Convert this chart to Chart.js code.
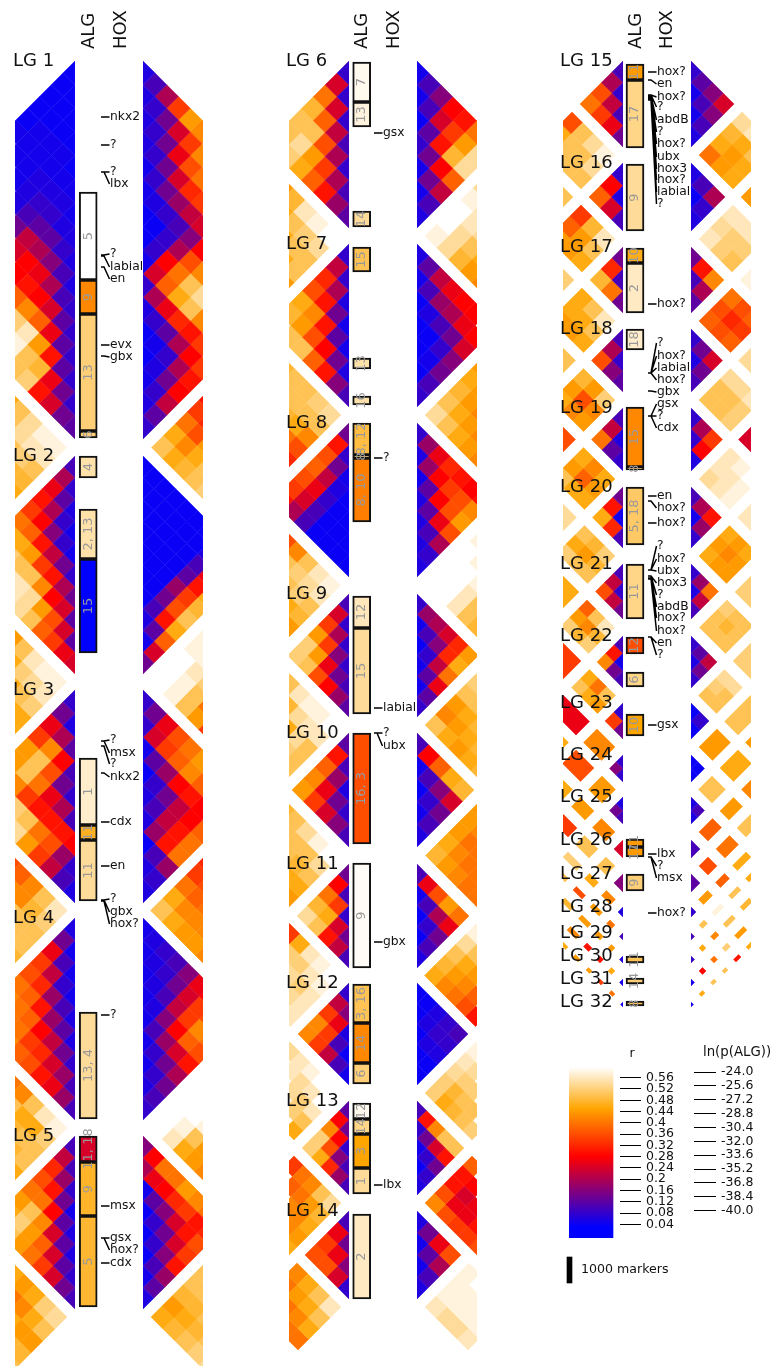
<!DOCTYPE html>
<html lang="en">
<head>
<meta charset="UTF-8">
<title>LG correlation and ALG maps</title>
<script src="https://cdn.jsdelivr.net/npm/chart.js"></script>
<style>
  body { margin: 0; background: #fff; width: 772px; height: 1366px; position: relative; overflow: hidden; }
  canvas { position: absolute; }
</style>
</head>
<body>
<script>
// linkage groups per column: start, end along the map, cells per group (last entry = next group cut by the page)
const col1Start = [61, 456, 690, 918, 1136, 1325];
const col1End = [439, 674, 903, 1120, 1309, 1492];
const col1Cells = [16, 10, 9, 9, 8, 7];
const col2Start = [61, 244, 423, 594, 733, 864, 983, 1101, 1211, 1315];
const col2End = [228, 407, 577, 717, 847, 968, 1085, 1195, 1299, 1401];
const col2Cells = [7, 7, 7, 6, 5, 5, 5, 5, 4, 4];
const col3Start = [61, 163, 247, 329, 408, 487, 564, 636, 703, 755, 797, 840, 874, 907, 933, 956, 979, 1002];
const col3End = [147, 231, 313, 392, 471, 548, 619, 688, 739, 782, 824, 858, 892, 917, 940, 963, 986, 1007];
const col3Cells = [4, 3, 3, 3, 3, 3, 3, 3, 2, 2, 2, 1, 1, 1, 1, 1, 1, 1];

// r x 100. triangles: one list per distance from the map, running down the map
const l1 = [[4,4,4,4,4,5,5,6,6,6,8,8,8,8,8,12],[4,4,4,5,5,6,6,8,10,10,12,12,12,14,14],[4,4,5,5,6,8,12,16,20,24,26,30,26,24],[4,5,5,6,8,12,20,26,28,38,44,48,30],[4,5,5,6,10,22,28,30,42,56,50,52],[5,5,5,6,14,24,28,38,52,58,50]];
const r1 = [[6,6,6,6,5,5,4,4,5,8,6,4,4,5,6,8],[10,8,8,8,8,6,4,8,24,20,8,5,6,8,12],[20,14,14,14,14,8,8,28,38,26,12,8,14,22],[34,24,26,24,18,10,20,40,46,32,20,20,28],[44,34,36,32,22,16,36,50,50,30,28,30],[42,42,40,34,24,28,42,54,42,34,34]];
const l2 = [[10,8,6,5,5,8,14,12,12,24],[20,12,8,8,14,20,24,24,26],[26,20,16,22,30,28,36,34],[30,28,30,34,42,44,38],[34,38,44,50,54,50],[40,46,50,56,54],[46,52,56,56]];
const r2 = [[4,4,4,4,4,4,4,6,5,14],[4,4,4,4,4,4,10,12,24],[4,4,4,4,4,14,30,38],[4,4,4,4,18,36,46],[4,4,4,12,34,50],[4,4,10,30,48],[4,6,26,46]];
const l3 = [[8,6,12,10,8,10,28,8,6],[14,20,28,14,20,30,18,10],[26,42,36,26,30,36,22],[34,50,40,30,40,34],[44,50,34,50,44],[44,42,52,54]];
const r3 = [[8,8,5,4,6,6,4,6,6],[14,24,12,8,10,18,10,8],[26,34,18,14,22,30,18],[36,38,28,22,30,40],[40,42,30,28,40],[44,38,28,38]];
const l4 = [[6,5,5,5,6,6,8,10,10],[14,10,8,10,12,14,18,18],[26,22,18,18,22,24,26],[34,32,30,28,32,30],[36,38,38,34,36],[40,40,40,38],[42,40,42]];
const r4 = [[5,5,5,5,5,5,5,6,8],[6,6,6,6,10,8,8,10],[8,8,10,16,18,14,14],[10,14,22,28,24,20],[16,24,34,38,30],[26,34,42,36],[28,36,40]];
const l5 = [[10,10,8,5,6,6,8,10],[22,18,14,12,12,12,14],[32,30,28,24,24,24],[36,40,42,38,34],[40,50,44,40],[44,52,44],[46,50]];
const r5 = [[16,20,5,4,4,4,5,6],[28,26,12,8,8,10,12],[40,28,16,14,16,18],[40,32,24,24,30],[44,34,30,34],[42,30,36],[40,32]];
const l6 = [[8,8,8,10,8,10,12],[24,24,22,20,20,18],[40,38,36,34,30],[48,50,44,38],[50,54,46],[50,52]];
const r6 = [[5,5,4,8,5,5,6],[10,10,12,14,14,10],[16,24,30,28,22],[28,34,48,38],[30,44,54],[40,54]];
const l7 = [[8,8,6,5,5,6,10],[22,20,14,12,14,16],[32,30,30,28,30],[36,42,36,38],[46,44,50],[48,50]];
const r7 = [[6,5,4,4,4,4,8],[12,10,6,4,5,10],[22,18,10,8,14],[26,20,14,16],[28,26,24],[28,28]];
const l8 = [[14,8,5,4,4,4,4],[30,14,6,4,4,4],[36,22,8,4,4],[38,26,10,4],[36,24,10],[34,20],[30]];
const r8 = [[8,6,5,6,6,6,6],[18,18,12,12,10,8],[26,28,28,26,20],[32,34,36,36],[30,36,44],[28,42],[30]];
const l9 = [[10,8,8,8,10,12],[24,20,16,14,18],[34,34,26,28],[44,44,36],[52,50],[52]];
const r9 = [[8,5,4,5,5,8],[18,10,8,12,12],[20,16,22,26],[24,32,40],[32,46],[44]];
const l10 = [[12,10,6,8,10],[30,18,14,16],[38,26,24],[42,34],[44]];
const r10 = [[10,5,4,5,6],[28,10,8,10],[38,16,14],[46,24],[48]];
const l11 = [[14,10,8,14,10],[28,34,24,22],[40,46,30],[48,50],[54]];
const r11 = [[10,5,4,4,6],[26,10,8,10],[36,20,14],[44,26],[40]];
const l12 = [[8,16,6,4,5],[22,26,10,10],[34,34,22],[42,34],[42]];
const r12 = [[4,4,4,4,4],[4,6,6,4],[6,8,6],[8,8],[10]];
const l13 = [[12,14,8,10,10],[28,28,16,18],[42,36,32],[52,46],[52]];
const r13 = [[10,8,5,4,6],[30,14,8,8],[42,24,14],[50,30],[50]];
const l14 = [[10,14,16,8],[26,26,24],[34,36],[36]];
const r14 = [[6,5,5,6],[14,12,10],[26,20],[36]];
const l15 = [[10,8,10,14],[20,22,26],[36,34],[40]];
const r15 = [[8,5,5,6],[12,10,10],[16,16],[24]];
const l16 = [[8,6,10],[28,24],[38]];
const r16 = [[6,4,6],[10,8],[20]];
const l17 = [[14,10,14],[32,40],[48]];
const r17 = [[14,10,12],[30,20],[42]];
const l18 = [[10,8,12],[20,16],[36]];
const r18 = [[8,6,10],[14,14],[24]];
const l19 = [[10,6,8],[22,12],[40]];
const r19 = [[8,8,6],[20,28],[34]];
const l20 = [[14,5,10],[30,32],[46]];
const r20 = [[10,5,8],[20,18],[30]];
const l21 = [[10,8,14],[22,22],[36]];
const r21 = [[8,6,10],[18,22],[40]];
const l22 = [[10,5,10],[30,14],[42]];
const r22 = [[8,6,8],[12,14],[22]];
const l23 = [[8,14],[34]];
const r23 = [[4,4],[8]];
const l24 = [[8,8],[16]];
const r24 = [[4,4],[4]];
const l25 = [[6,10],[14]];
const r25 = [[6,6],[10]];
const l26 = [[24]], r26 = [[10]], l27 = [[16]], r27 = [[12]], l28 = [[6]], r28 = [[8]];
const l29 = [[10]], r29 = [[10]], l30 = [[6]], r30 = [[8]], l31 = [[5]], r31 = [[5]], l32 = [[5]], r32 = [[5]];

// r x 100 between two neighbouring groups: rows go up the first group, columns go down the second
const l1_2 = [[58,56,50,48,46],[58,56,52,48],[54,54,50],[50,50],[46]];
const l2_3 = [[58,56,52,46,46],[58,54,50,46],[56,52,46],[50,46],[44]];
const l3_4 = [[56,52,50,50,48],[50,48,50,50],[42,42,50],[38,42],[36]];
const l4_5 = [[58,52,50,50,46],[56,46,50,48],[50,46,48],[42,50],[40]];
const l5_6 = [[54,50,44,48,50],[52,46,44,48],[46,42,46],[44,40],[46]];
const r1_2 = [[50,46,48,50,52],[46,42,46,50],[40,36,44],[34,32],[30]];
const r2_3 = [[60,58,50,44,34],[60,58,50,40],[60,56,52],[58,58],[58]];
const r3_4 = [[50,46,44,44,42],[46,42,42,42],[40,38,40],[34,36],[32]];
const r4_5 = [[60,56,46,44,42],[60,58,50,44],[60,60,58],[60,60],[60]];
const r5_6 = [[46,48,50,52,54],[44,46,48,50],[48,48,50],[50,50],[50]];
const l6_7 = [[60,54,50,50,44],[58,52,50,46],[56,50,46],[48,46],[44]];
const l7_8 = [[54,50,42,36,32],[52,50,46,40],[50,50,48],[50,50],[48]];
const l8_9 = [[58,56,50,48,44],[56,54,52,46],[50,52,50],[42,50],[36]];
const l9_10 = [[60,56,50,50,50],[58,56,54,52],[58,54,46],[56,48],[50]];
const l10_11 = [[60,54,50,46,44],[58,50,48,46],[54,50,50],[50,50],[48]];
const l11_12 = [[60,58,56,56,56],[58,56,52,54],[56,52,54],[46,52],[34]];
const l12_13 = [[60,60,56,50,46],[60,56,52,52],[58,54,54],[56,56],[54]];
const l13_14 = [[54,48,46,44,46],[50,44,42,42],[42,40,42],[40,38],[34]];
const l14_15 = [[56,50,46,40],[50,46,42,40],[46,44,40,40],[42,40,38,36]];
const r6_7 = [[58,54,48,44,42],[60,54,50,46],[60,56,54],[58,56],[54]];
const r7_8 = [[54,50,46,44,42],[50,46,44,42],[48,44,42],[46,44],[44]];
const r8_9 = [[60,60,56,50,48],[60,60,56,50],[60,60,58],[60,58],[58]];
const r9_10 = [[50,46,44,46,48],[42,44,46,48],[44,46,48],[50,50],[52]];
const r10_11 = [[48,44,42,40,40],[46,42,40,40],[44,40,40],[44,42],[44]];
const r11_12 = [[46,42,40,36,30],[48,44,42,38],[50,46,44],[54,50],[58]];
const r12_13 = [[52,46,48,50,52],[52,48,50,50],[54,52,52],[56,54],[58]];
const r13_14 = [[42,36,34,34,36],[36,26,26,30],[30,24,26],[30,28],[38]];
const r14_15 = [[56,54,54,56],[58,58,58,58],[58,58,58,58],[58,60,60,60]];
const l15_16 = [[58,54,50],[54,50,50],[50,50,50],[36,46]];
const l16_17 = [[56,50,46],[48,44,44],[34,38,44]];
const l17_18 = [[56,50,46],[50,46,44],[46,46,44]];
const l18_19 = [[52,42,44],[44,36,42],[48,44,46]];
const l19_20 = [[46,44,46],[42,38,46],[46,44,50]];
const l20_21 = [[52,48,50],[48,44,50],[50,46,52]];
const l21_22 = [[56,48,52],[50,42,48],[38,44,52]];
const l22_23 = [[50,44],[40,46],[46,50]];
const r15_16 = [[40,44,46],[46,44,46],[48,46,50],[54,56]];
const r16_17 = [[56,52,50],[54,52,52],[56,56,56]];
const r17_18 = [[38,36,38],[36,32,34],[40,36,38]];
const r18_19 = [[50,50,52],[50,50,52],[54,54,56]];
const r19_20 = [[54,56,58],[56,56,58],[56,58,60]];
const r20_21 = [[46,44,44],[44,42,44],[46,44,46]];
const r21_22 = [[50,50,50],[50,48,50],[52,50,50]];
const r22_23 = [[50,50],[52,50],[54,54]];

// whole group pairs with one r x 100 value: [group, group, r]
const leftPairs = [[15,17,50],[16,18,52],[17,19,50],[18,20,36],[19,21,54],[20,22,46],[21,23,34],[22,24,26],[22,25,46],[23,24,42],[23,25,36],[23,26,46],[24,25,44],[24,26,44],[24,27,34],[25,26,42],[25,27,50],[25,28,52],[25,29,50],[26,27,50],[26,28,46],[26,29,36],[26,30,48],[27,28,42],[27,29,44],[27,30,44],[27,31,42],[27,32,46],[28,29,40],[28,30,44],[28,31,30],[28,32,44],[29,30,44],[29,31,30],[29,32,44],[30,31,46],[30,32,34],[31,32,40]];
const rightPairs = [[15,17,44],[16,18,58],[17,19,54],[18,20,24],[19,21,56],[20,22,52],[21,23,52],[22,24,50],[22,25,44],[23,24,44],[23,25,46],[23,26,42],[24,25,50],[24,26,44],[24,27,50],[25,26,38],[25,27,40],[25,28,46],[25,29,46],[26,27,36],[26,28,38],[26,29,50],[26,30,48],[27,28,44],[27,29,58],[27,30,50],[27,31,44],[27,32,46],[28,29,50],[28,30,42],[28,31,52],[28,32,30],[29,30,46],[29,31,40],[29,32,50],[30,31,28],[30,32,50],[31,32,46]];

// ALG boxes per column
const alg1Start = [192, 280, 314, 431, 456, 509, 559, 758, 825, 840, 1012, 1136, 1162, 1216];
const alg1End = [280, 314, 431, 438, 478, 559, 653, 825, 840, 901, 1119, 1162, 1216, 1307];
const alg1Text = ['5', '9', '13', '6', '4', '2, 13', '15', '1', '11', '11', '13, 4', '11, 18', '9', '5'];
const alg1Shade = [.6, .42, .52, .52, .55, .55, .03, .57, .47, .54, .54, .24, .475, .48];
const alg2Start = [62, 102, 211, 247, 358, 396, 423, 455, 458, 596, 628, 733, 863, 984, 1023, 1063, 1103, 1119, 1134, 1168, 1214];
const alg2End = [102, 127, 227, 272, 369, 405, 455, 458, 522, 628, 714, 844, 968, 1023, 1063, 1084, 1119, 1134, 1168, 1194, 1299];
const alg2Text = ['7', '13', '14', '15', '13', '16', '8, 12', '8', '8, 10', '12', '15', '16, 3', '9', '3, 16', '14', '6', '12', '14', '3', '1', '2'];
const alg2Shade = [.59, .58, .54, .5, .55, .55, .49, .5, .41, .56, .54, .36, .595, .5, .42, .52, .59, .53, .45, .54, .565];
const alg3Start = [64, 80, 164, 248, 263, 329, 407, 467, 487, 564, 637, 672, 714, 839, 847, 874, 956, 978, 1001];
const alg3End = [80, 148, 231, 263, 313, 350, 467, 470, 545, 619, 654, 687, 736, 847, 857, 891, 963, 984, 1006];
const alg3Text = ['11', '17', '9', '10', '2', '18', '15', '8', '5, 18', '11', '12', '6', '10', '11', '17', '9', '11', '14', '8'];
const alg3Shade = [.44, .53, .54, .465, .565, .57, .42, .5, .51, .53, .36, .53, .45, .44, .44, .52, .5, .52, .5];

// homeobox genes per column: name, label position, marker position
const hox1Name = ['nkx2','?','?','lbx','?','labial','en','evx','gbx','?','msx','?','nkx2','cdx','en','?','gbx','hox?','?','msx','gsx','hox?','cdx'];
const hox1Label = [117,145,172,184,254,267,279,345,357,740,753,764,777,822,866,899,912,924,1015,1206,1238,1250,1263];
const hox1Tick = [117,145,172,172,255,256,267,345,356,741,741,746,773,822,866,900,900,901,1015,1206,1238,1238,1263];
const hox2Name = ['gsx','?','labial','?','ubx','gbx','lbx'];
const hox2Label = [133,458,708,733,746,942,1185];
const hox2Tick = [133,458,708,733,733,942,1185];
const hox3Name = ['hox?','en','hox?','?','abdB','?','hox?','ubx','hox3','hox?','labial','?','hox?','?','hox?','labial','hox?','gbx','gsx','?','cdx','en','hox?','hox?','?','hox?','ubx','hox3','?','abdB','hox?','hox?','en','?','gsx','lbx','?','msx','hox?'];
const hox3Label = [72,84,97,107,120,132,144,157,169,180,192,204,304,343,356,368,380,392,404,416,428,496,508,523,546,559,571,583,595,607,618,631,643,655,725,854,866,878,913];
const hox3Tick = [72,80,95,95,96,97,97,98,98,99,99,100,304,373,373,373,373,391,416,416,416,496,501,523,570,570,570,576,576,578,578,579,637,637,725,854,857,857,913];

// colour scale ticks
const rTicks = [0.56,0.52,0.48,0.44,0.4,0.36,0.32,0.28,0.24,0.2,0.16,0.12,0.08,0.04];
const lnTicks = [-24,-25.6,-27.2,-28.8,-30.4,-32,-33.6,-35.2,-36.8,-38.4,-40];
const paletteR = [0.03, 0.28, 0.45, 0.6];
const paletteRgb = [[0,0,255],[255,0,0],[255,165,0],[255,255,255]];

const FONT = "'DejaVu Sans', Verdana, sans-serif";
const INK = '#111';

function shade(r) {
  if (r <= paletteR[0]) return 'rgb(0,0,255)';
  for (let i = 1; i < paletteR.length; i++) {
    if (r <= paletteR[i]) {
      const t = (r - paletteR[i-1]) / (paletteR[i] - paletteR[i-1]);
      const a = paletteRgb[i-1], b = paletteRgb[i];
      return 'rgb(' + a.map((v, k) => Math.round(v + (b[k]-v)*t)).join(',') + ')';
    }
  }
  return '#fff';
}

function addCanvas(left, top, width, height) {
  const c = document.createElement('canvas');
  c.width = width; c.height = height;
  c.style.left = left + 'px'; c.style.top = top + 'px';
  document.body.appendChild(c);
  return c;
}

// one cell spans two stretches of the map; rotated 45 degrees it becomes a diamond
function cellDataset(u0, u1, v0, v1, r100) {
  const c = shade(r100 / 100);
  const corner = (u, v) => ({x: (v - u) / 2, y: (u + v) / 2});
  return {
    data: [corner(u0,v0), corner(u0,v1), corner(u1,v1), corner(u1,v0), corner(u0,v0)],
    backgroundColor: c, borderColor: c, borderWidth: 0.5, fill: 'shape', pointRadius: 0, tension: 0
  };
}

function heatChart(left, reverse, start, end, cells, triangles, blocks, pairs, firstLg) {
  const ds = [];
  const size = i => (end[i] - start[i]) / cells[i];
  triangles.forEach((bands, g) => {
    const d = size(g);
    bands.forEach((band, k) => band.forEach((r, i) => {
      const u = start[g] + i * d, v = start[g] + (i + k) * d;
      ds.push(cellDataset(u, u + d, v, v + d, r));
    }));
  });
  blocks.forEach(([a, b, rows]) => {
    const da = size(a), db = size(b);
    rows.forEach((row, p) => row.forEach((r, q) => {
      const u1 = end[a] - p * da, v0 = start[b] + q * db;
      ds.push(cellDataset(u1 - da, u1, v0, v0 + db, r));
    }));
  });
  pairs.forEach(([a, b, r]) => {
    ds.push(cellDataset(start[a-firstLg], end[a-firstLg], start[b-firstLg], end[b-firstLg], r));
  });
  new Chart(addCanvas(left, 0, 60, 1366), {
    type: 'line',
    data: {datasets: ds},
    options: {
      responsive: false, animation: false, events: [],
      plugins: {legend: {display: false}, tooltip: {enabled: false}},
      scales: {
        x: {type: 'linear', display: false, min: 0, max: 60, reverse: reverse},
        y: {type: 'linear', display: false, min: 0, max: 1366, reverse: true}
      }
    }
  });
}

heatChart(15, true, col1Start, col1End, col1Cells, [l1,l2,l3,l4,l5],
  [[0,1,l1_2],[1,2,l2_3],[2,3,l3_4],[3,4,l4_5],[4,5,l5_6]], [], 1);
heatChart(143, false, col1Start, col1End, col1Cells, [r1,r2,r3,r4,r5],
  [[0,1,r1_2],[1,2,r2_3],[2,3,r3_4],[3,4,r4_5],[4,5,r5_6]], [], 1);
heatChart(289, true, col2Start, col2End, col2Cells, [l6,l7,l8,l9,l10,l11,l12,l13,l14],
  [[0,1,l6_7],[1,2,l7_8],[2,3,l8_9],[3,4,l9_10],[4,5,l10_11],[5,6,l11_12],[6,7,l12_13],[7,8,l13_14],[8,9,l14_15]], [], 6);
heatChart(417, false, col2Start, col2End, col2Cells, [r6,r7,r8,r9,r10,r11,r12,r13,r14],
  [[0,1,r6_7],[1,2,r7_8],[2,3,r8_9],[3,4,r9_10],[4,5,r10_11],[5,6,r11_12],[6,7,r12_13],[7,8,r13_14],[8,9,r14_15]], [], 6);
heatChart(563, true, col3Start, col3End, col3Cells, [l15,l16,l17,l18,l19,l20,l21,l22,l23,l24,l25,l26,l27,l28,l29,l30,l31,l32],
  [[0,1,l15_16],[1,2,l16_17],[2,3,l17_18],[3,4,l18_19],[4,5,l19_20],[5,6,l20_21],[6,7,l21_22],[7,8,l22_23]], leftPairs, 15);
heatChart(691, false, col3Start, col3End, col3Cells, [r15,r16,r17,r18,r19,r20,r21,r22,r23,r24,r25,r26,r27,r28,r29,r30,r31,r32],
  [[0,1,r15_16],[1,2,r16_17],[2,3,r17_18],[3,4,r18_19],[4,5,r19_20],[5,6,r20_21],[6,7,r21_22],[7,8,r22_23]], rightPairs, 15);

// colour bar with r axis
const rMin = -0.0086, rMax = 0.598;
new Chart(addCanvas(569, 1067, 111, 171), {
  type: 'bar',
  data: {datasets: [{
    data: [{x: 22, y: [rMin, rMax]}],
    barThickness: 44, borderWidth: 0, grouped: false,
    backgroundColor(ctx) {
      const sc = ctx.chart.scales.y;
      if (!sc || sc.top === undefined) return '#fff';
      const g = ctx.chart.ctx.createLinearGradient(0, sc.getPixelForValue(rMax), 0, sc.getPixelForValue(rMin));
      const span = rMax - rMin;
      paletteR.forEach((r, i) => g.addColorStop(Math.max(0, Math.min(1, (rMax - r) / span)), 'rgb(' + paletteRgb[i].join(',') + ')'));
      return g;
    }
  }]},
  options: {
    responsive: false, animation: false, events: [],
    plugins: {legend: {display: false}, tooltip: {enabled: false}},
    scales: {
      x: {type: 'linear', display: false, min: 0, max: 51, offset: false},
      y: {
        type: 'linear', position: 'right', min: rMin, max: rMax,
        afterBuildTicks(s) { s.ticks = rTicks.map(v => ({value: v})); },
        afterFit(s) { s.width = 60; s.paddingTop = 0; s.paddingBottom = 0; },
        grid: {drawOnChartArea: false, tickLength: 21, color: '#000', lineWidth: 1},
        border: {display: false},
        ticks: {padding: 5, autoSkip: false, color: INK, font: {family: FONT, size: 12.5}, callback: v => String(v)}
      }
    }
  }
});

// ln(p(ALG)) axis
new Chart(addCanvas(690, 1065, 82, 153), {
  type: 'scatter',
  data: {datasets: [{data: []}]},
  options: {
    responsive: false, animation: false, events: [],
    plugins: {legend: {display: false}, tooltip: {enabled: false}},
    scales: {
      x: {type: 'linear', display: false},
      y: {
        type: 'linear', position: 'right', min: -40.84, max: -23.19,
        afterBuildTicks(s) { s.ticks = lnTicks.map(v => ({value: v})); },
        afterFit(s) { s.width = 78; s.paddingTop = 0; s.paddingBottom = 0; },
        grid: {drawOnChartArea: false, tickLength: 22, color: '#000', lineWidth: 1},
        border: {display: false},
        ticks: {padding: 5, autoSkip: false, color: INK, font: {family: FONT, size: 12.5}, callback: v => v.toFixed(1)}
      }
    }
  }
});

// boxes, gene markers and all the labels sit on one page sized chart
const algX = [88.2, 361.7, 635];
const hoxX = [101, 374, 648];
const headerX = [[89,121],[362,394],[636,667]];
const lgX = [13, 286, 560];
const algCols = [[alg1Start,alg1End,alg1Text,alg1Shade],[alg2Start,alg2End,alg2Text,alg2Shade],[alg3Start,alg3End,alg3Text,alg3Shade]];
const hoxCols = [[hox1Name,hox1Label,hox1Tick],[hox2Name,hox2Label,hox2Tick],[hox3Name,hox3Label,hox3Tick]];
const lgCols = [[col1Start.slice(0,5),1],[col2Start.slice(0,9),6],[col3Start,15]];

const boxData = [], boxFill = [], hoxLines = [];
algCols.forEach(([st, en, , sh], c) => st.forEach((s, i) => {
  boxData.push({x: algX[c], y: [s, en[i]]});
  boxFill.push(shade(sh[i]));
}));
hoxCols.forEach(([, lab, tick], c) => lab.forEach((y, i) => {
  const x = hoxX[c], t = tick[i];
  hoxLines.push({x: x, y: t}, {x: x + 3, y: t}, {x: x + 8.5, y: y}, {x: NaN, y: NaN});
}));

const labelPlugin = {
  id: 'labels',
  afterDraw(chart) {
    const {ctx, scales: {x, y}} = chart;
    const put = (text, px, py, size, color, align, rot) => {
      ctx.save();
      ctx.translate(x.getPixelForValue(px), y.getPixelForValue(py));
      if (rot) ctx.rotate(-Math.PI / 2);
      ctx.font = size + 'px ' + FONT;
      ctx.fillStyle = color;
      ctx.textAlign = align;
      ctx.textBaseline = 'middle';
      ctx.fillText(text, 0, 0);
      ctx.restore();
    };
    headerX.forEach(([a, h]) => {
      put('ALG', a, 49, 18, INK, 'left', true);
      put('HOX', h, 49, 18, INK, 'left', true);
    });
    lgCols.forEach(([st, first], c) => st.forEach((s, i) => put('LG ' + (first + i), lgX[c], s, 18, INK, 'left')));
    algCols.forEach(([st, en, tx], c) => st.forEach((s, i) => put(tx[i], algX[c], (s + en[i]) / 2, 13, '#999', 'center', true)));
    hoxCols.forEach(([nm, lab], c) => nm.forEach((n, i) => put(n, hoxX[c] + 9, lab[i], 12.3, INK, 'left')));
    put('r', 632, 1054, 12.5, INK, 'center');
    put('ln(p(ALG))', 703, 1053, 13.3, INK, 'left');
    put('1000 markers', 581, 1270, 12.6, INK, 'left');
  }
};

new Chart(addCanvas(0, 0, 772, 1366), {
  data: {datasets: [
    {type: 'line', data: hoxLines, borderColor: '#000', borderWidth: 1.5, pointRadius: 0, tension: 0, spanGaps: false},
    {type: 'bar', data: boxData, backgroundColor: boxFill, borderColor: INK, borderWidth: 2, borderSkipped: false, barThickness: 18, grouped: false},
    {type: 'bar', data: [{x: 569.5, y: [1257, 1283]}], backgroundColor: '#000', borderWidth: 0, barThickness: 5, grouped: false}
  ]},
  options: {
    responsive: false, animation: false, events: [],
    plugins: {legend: {display: false}, tooltip: {enabled: false}},
    scales: {
      x: {type: 'linear', display: false, min: 0, max: 772, offset: false},
      y: {type: 'linear', display: false, min: 0, max: 1366, reverse: true}
    }
  },
  plugins: [labelPlugin]
});
</script>
</body>
</html>
